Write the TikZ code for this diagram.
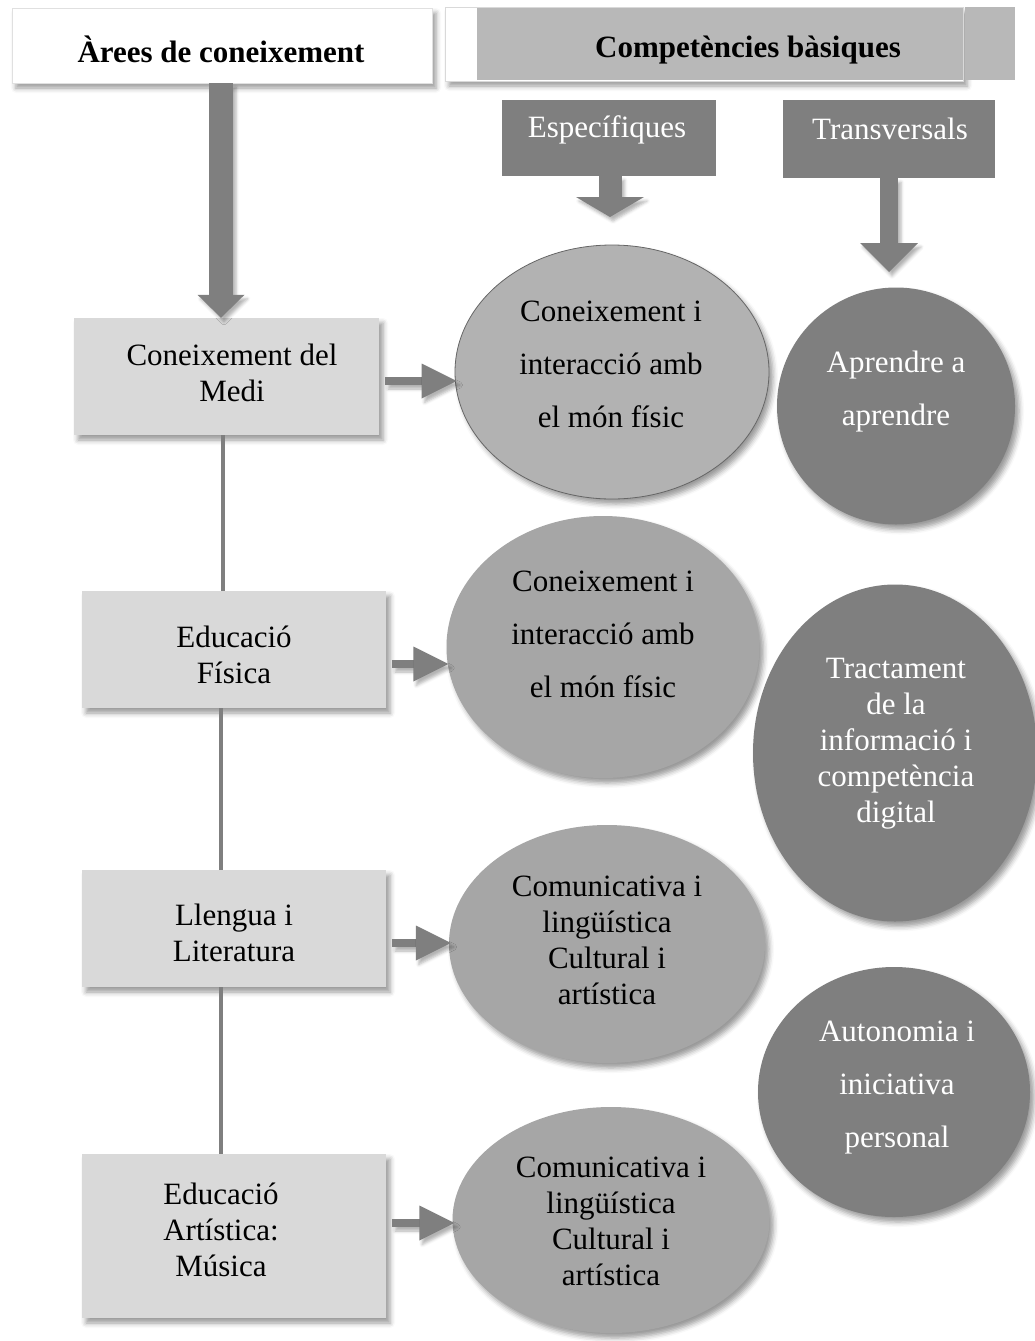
\documentclass[tikz,border=0pt]{standalone}
\usepackage{fontspec}
\setmainfont{Liberation Serif}
\usetikzlibrary{calc,shapes.geometric,shadows.blur}
\definecolor{areafill}{HTML}{D9D9D9}
\definecolor{specfill}{HTML}{A6A6A6}
\definecolor{specfilltop}{HTML}{B2B2B2}
\definecolor{darkfill}{HTML}{7F7F7F}
\definecolor{headfill}{HTML}{B8B8B8}
\begin{document}
\begin{tikzpicture}[x=1pt,y=-1pt,
  soft/.style={blur shadow={shadow xshift=4pt, shadow yshift=-5pt,
      shadow blur radius=5pt, shadow opacity=40}},
  softarrow/.style={blur shadow={shadow xshift=3pt, shadow yshift=-4pt,
      shadow blur radius=3pt, shadow opacity=30}},
  txt/.style={inner sep=0pt, align=center, font=\fontsize{31}{36}\selectfont},
  widetxt/.style={txt, font=\fontsize{31}{53}\selectfont},
  headtxt/.style={txt, font=\bfseries\fontsize{31}{36}\selectfont},
  areabox/.style={rectangle, fill=areafill, inner sep=0pt, soft},
  compbox/.style={rectangle, fill=darkfill, inner sep=0pt},
  specblob/.style={ellipse, fill=specfill, inner sep=0pt, soft},
  transblob/.style={ellipse, fill=darkfill, inner sep=0pt, soft},
  arrowfill/.style={fill=darkfill, softarrow},
  link/.style={draw=darkfill, line width=4pt}
]
\useasboundingbox (0,0) rectangle (1035,1341);

% ---- headers ----
\node[rectangle, fill=white, draw=black!12, line width=0.6pt, soft,
      minimum width=420, minimum height=75, inner sep=0pt] (areas) at (222,45.5) {};
\node[headtxt] (areastxt) at (221,49) {Àrees de coneixement};

\node[rectangle, fill=white, draw=black!15, line width=0.6pt, soft,
      minimum width=518, minimum height=74, inner sep=0pt] (comp) at (704,44) {};
\node[rectangle, fill=headfill, minimum width=486, minimum height=72,
      inner sep=0pt] (compbar) at (720,44) {};
\node[rectangle, fill=headfill, minimum width=50, minimum height=73,
      inner sep=0pt] (compend) at (990,43.5) {};
\node[headtxt] (comptxt) at (748,50) {Competències bàsiques};

\node[compbox, minimum width=214, minimum height=76] (esp) at (609,138) {};
\node[txt, text=white] (esptxt) at (607,130) {Específiques};
\node[compbox, minimum width=212, minimum height=78] (trans) at (889,139) {};
\node[txt, text=white] (transtxt) at (890,129) {Transversals};

% ---- areas ----
\node[areabox, minimum width=305, minimum height=117] (medi) at (226.5,376.5) {};
\node[txt] (meditxt) at (232,373) {Coneixement del\\Medi};
\node[areabox, minimum width=304, minimum height=117] (fisica) at (234,649.5) {};
\node[txt] (fisicatxt) at (234,655) {Educació\\Física};
\node[areabox, minimum width=304, minimum height=117] (llengua) at (234,928.5) {};
\node[txt] (llenguatxt) at (234,933) {Llengua i\\Literatura};
\node[areabox, minimum width=304, minimum height=164] (musica) at (234,1236) {};
\node[txt] (musicatxt) at (221,1230) {Educació\\Artística:\\Música};

% ---- specific competences ----
\node[specblob, fill=specfilltop, draw=black!60, line width=0.8pt,
      minimum width=314, minimum height=254] (c1) at (612,372) {};
\node[widetxt] (c1txt) at (611,364) {Coneixement i\\interacció amb\\el món físic};
\node[specblob, minimum width=313, minimum height=262] (c2) at (603,647) {};
\node[widetxt] (c2txt) at (603,634) {Coneixement i\\interacció amb\\el món físic};
\node[specblob, minimum width=316, minimum height=238] (c3) at (607,944) {};
\node[txt] (c3txt) at (607,940) {Comunicativa i\\lingüística\\Cultural i\\artística};
\node[specblob, minimum width=317, minimum height=226] (c4) at (611,1220) {};
\node[txt] (c4txt) at (611,1221) {Comunicativa i\\lingüística\\Cultural i\\artística};

% ---- transversal competences ----
\node[transblob, minimum width=238, minimum height=237] (ap) at (896,406) {};
\node[widetxt, text=white] (aptxt) at (896,392) {Aprendre a\\aprendre};
\node[transblob, minimum width=284, minimum height=337] (tr) at (895,753) {};
\node[txt, text=white] (trtxt) at (896,744) {Tractament\\de la\\informació i\\competència\\digital};
\node[transblob, minimum width=272, minimum height=250] (au) at (894,1092) {};
\node[widetxt, text=white] (autxt) at (897,1088) {Autonomia i\\iniciativa\\personal};

% ---- vertical arrows ----
\fill[arrowfill] (209,0 |- areas.south) rectangle (233,295);
\fill[arrowfill] (221,0 |- medi.north) -- ++(-23.5,-23) -- ++(47,0) -- cycle;

\fill[arrowfill] (598.5,0 |- esp.south) rectangle (621.5,198);
\fill[arrowfill] (610,217) -- ++(-34,-20) -- ++(68,0) -- cycle;

\fill[arrowfill] (880,0 |- trans.south) rectangle (898,244);
\fill[arrowfill] (889,272) -- ++(-29,-29) -- ++(58,0) -- cycle;

% ---- area to competence arrows ----
\foreach \src/\dst/\yy in {medi/c1/381, fisica/c2/664, llengua/c3/943, musica/c4/1223}{
  \fill[arrowfill] ($(\src.east |- 0,\yy)+(6,-4)$) rectangle ($(\dst.west |- 0,\yy)+(-32,4)$);
  \fill[arrowfill] ($(\dst.west |- 0,\yy)+(2,0)$) -- ++(-35,-17.5) -- ++(0,35) -- cycle;
}

% ---- links between areas ----
\draw[link] (223,0 |- medi.south) -- (223,0 |- fisica.north);
\draw[link] (221,0 |- fisica.south) -- (221,0 |- llengua.north);
\draw[link] (221,0 |- llengua.south) -- (221,0 |- musica.north);
\end{tikzpicture}
\end{document}
